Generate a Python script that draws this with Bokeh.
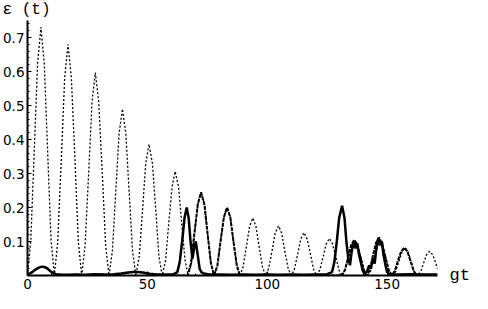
from bokeh.plotting import figure
from bokeh.models import FixedTicker, LinearAxis, Range1d
from bokeh.embed import file_html
from bokeh.resources import INLINE

# Dotted curve
DOT_T = [0, 1.4, 2.8, 4.2, 5.6, 7.0, 8.4, 9.8, 11.2,
         12.6, 14.1, 15.5, 16.9, 18.3, 19.8, 21.2, 22.6,
         24.0, 25.5, 26.9, 28.3, 29.7, 31.2, 32.6, 34.0,
         35.4, 36.8, 38.2, 39.6, 41.0, 42.4, 43.8, 45.2,
         46.6, 48.0, 49.3, 50.7, 52.1, 53.5, 54.8, 56.2,
         57.6, 58.9, 60.3, 61.6, 63.0, 64.3, 65.7, 67.0,
         68.4, 69.7, 71.1, 72.4, 73.8, 75.1, 76.5, 77.8,
         79.2, 80.5, 81.9, 83.2, 84.6, 85.9, 87.3, 88.6,
         89.9, 91.3, 92.6, 94.0, 95.3, 96.6, 98.0, 99.3,
         100.6, 102.0, 103.3, 104.7, 106.0, 107.3, 108.7, 110.0,
         111.3, 112.7, 114.0, 115.3, 116.6, 118.0, 119.3, 120.6,
         121.9, 123.3, 124.6, 125.9, 127.2, 128.6, 129.9, 131.2,
         132.5, 133.9, 135.2, 136.5, 137.8, 139.2, 140.5, 141.8,
         143.1, 144.4, 145.7, 147.1, 148.4, 149.7, 151.0, 152.3,
         153.6, 154.9, 156.2, 157.5, 158.7, 160.0, 161.3, 162.6,
         163.9, 165.2, 166.4, 167.7, 169.0, 170.3, 171.0]
DOT_E = [0, 0.107, 0.365, 0.623, 0.730, 0.623, 0.365, 0.107, 0,
         0.099, 0.340, 0.581, 0.680, 0.581, 0.340, 0.099, 0,
         0.087, 0.299, 0.510, 0.597, 0.510, 0.299, 0.087, 0,
         0.072, 0.245, 0.418, 0.490, 0.418, 0.245, 0.072, 0,
         0.056, 0.193, 0.330, 0.386, 0.330, 0.193, 0.056, 0,
         0.045, 0.153, 0.261, 0.306, 0.261, 0.153, 0.045, 0,
         0.036, 0.123, 0.209, 0.245, 0.209, 0.123, 0.036, 0,
         0.029, 0.100, 0.171, 0.200, 0.171, 0.100, 0.029, 0,
         0.025, 0.085, 0.144, 0.169, 0.144, 0.085, 0.025, 0,
         0.021, 0.073, 0.125, 0.146, 0.125, 0.073, 0.021, 0,
         0.018, 0.063, 0.108, 0.126, 0.108, 0.063, 0.018, 0,
         0.016, 0.055, 0.093, 0.109, 0.093, 0.055, 0.016, 0,
         0.015, 0.050, 0.085, 0.100, 0.085, 0.050, 0.015, 0,
         0.013, 0.046, 0.079, 0.092, 0.079, 0.046, 0.013, 0,
         0.012, 0.041, 0.070, 0.082, 0.070, 0.041, 0.012, 0,
         0.010, 0.036, 0.061, 0.071, 0.061, 0.036, 0.020]

# Heavier dashed curve
DASH_T = [60.0, 66.8, 68.2, 69.6, 71.0, 72.4, 73.8, 75.1, 76.5, 77.8,
          79.2, 80.5, 81.9, 83.2, 84.6, 85.9, 87.3, 88.6,
          131.0, 132.4, 133.7, 135.0, 136.3, 137.6, 138.9, 140.2, 141.5,
          142.8, 144.0, 145.3, 146.6, 147.9, 149.2, 150.5, 151.8,
          153.1, 154.4, 155.8, 157.2, 158.5, 159.8, 161.1, 162.4]
DASH_E = [0.0, 0.0, 0.036, 0.123, 0.209, 0.245, 0.209, 0.123, 0.036, 0.0,
          0.029, 0.100, 0.171, 0.200, 0.171, 0.100, 0.029, 0.0,
          0.0, 0.016, 0.053, 0.090, 0.105, 0.090, 0.053, 0.016, 0.0,
          0.016, 0.056, 0.095, 0.112, 0.095, 0.056, 0.016, 0.0,
          0.012, 0.041, 0.070, 0.082, 0.070, 0.041, 0.012, 0.0]

# Solid noisy curve
SOLID_T = [0, 1, 2, 3, 4, 5, 6, 7, 8, 9, 10, 11, 12, 14, 17, 20, 24, 28, 32, 36,
           39, 42, 45, 48, 51, 54, 58, 61, 62.5, 63.5, 64.5, 65.5, 66.4, 67.2, 68.0,
           68.8, 69.5, 70.2, 71.0, 71.8, 72.5, 73.5, 76, 80, 85, 90, 95, 100, 105,
           110, 115, 120, 125, 127, 128, 129, 130, 131.2, 132.2, 133.0, 133.8, 134.5,
           135.2, 136.0, 136.8, 137.5, 138.3, 139.0, 139.8, 140.5, 141.5, 142.5, 143.2,
           144.0, 144.8, 145.5, 146.3, 147.0, 147.8, 148.5, 149.3, 150.0, 151, 155,
           160, 165, 171]
SOLID_E = [0.004, 0.006, 0.010, 0.016, 0.020, 0.024, 0.026, 0.025, 0.022, 0.016,
           0.010, 0.006, 0.004, 0.003, 0.002, 0.003, 0.002, 0.004, 0.003, 0.004,
           0.006, 0.009, 0.011, 0.009, 0.005, 0.003, 0.003, 0.004, 0.010, 0.040,
           0.100, 0.170, 0.200, 0.170, 0.100, 0.050, 0.080, 0.100, 0.060, 0.020,
           0.010, 0.006, 0.003, 0.003, 0.002, 0.003, 0.002, 0.003, 0.002, 0.003,
           0.002, 0.003, 0.004, 0.010, 0.040, 0.100, 0.170, 0.205, 0.170, 0.100,
           0.050, 0.030, 0.070, 0.100, 0.080, 0.095, 0.060, 0.040, 0.015, 0.005,
           0.010, 0.030, 0.020, 0.050, 0.035, 0.080, 0.110, 0.090, 0.100, 0.060,
           0.030, 0.010, 0.004, 0.003, 0.004, 0.003, 0.003]

X_TICKS = [0, 50, 100, 150]
Y_TICKS = [0.1, 0.2, 0.3, 0.4, 0.5, 0.6, 0.7]
Y_TITLE = "ε (t)"
X_TITLE = "gt"

W, H = 472, 293
LEFT, RIGHT, TOP, BOTTOM = 25, 28, 20, 18

p = figure(width=W, height=H, output_backend="svg", toolbar_location=None,
           x_range=Range1d(0, 171), y_range=Range1d(0, 0.75),
           min_border_left=LEFT, min_border_right=RIGHT, min_border_top=TOP,
           min_border_bottom=BOTTOM)
p.grid.visible = False
p.outline_line_color = None
p.background_fill_color = "white"
p.border_fill_color = "white"

p.title.text = Y_TITLE
p.title.align = "left"
p.title.offset = -LEFT
p.title.standoff = 0
p.title.vertical_align = "top"
p.title.text_font = "Liberation Mono"
p.title.text_font_style = "normal"
p.title.text_font_size = "16px"
p.title.text_color = "black"

p.xaxis.ticker = FixedTicker(ticks=X_TICKS, minor_ticks=list(range(0, 171, 10)))
p.yaxis.ticker = FixedTicker(ticks=Y_TICKS,
                             minor_ticks=[i * 0.02 for i in range(0, 38)])
for ax in (p.xaxis[0], p.yaxis[0]):
    ax.axis_line_width = 2
    ax.axis_line_color = "black"
    ax.major_tick_in = 4
    ax.major_tick_out = 0
    ax.minor_tick_in = 2
    ax.minor_tick_out = 0
    ax.major_tick_line_color = "black"
    ax.minor_tick_line_color = "black"
    ax.major_label_text_font = "DejaVu Sans"
    ax.major_label_text_font_size = "13.5px"
    ax.major_label_text_color = "black"
p.yaxis.major_label_standoff = 3
p.xaxis.major_label_standoff = 3

# "gt" as the single label of a bare right-hand axis, level with y = 0
ra = LinearAxis(ticker=FixedTicker(ticks=[0]), major_label_overrides={0: X_TITLE},
                axis_line_color=None, major_tick_line_color=None,
                minor_tick_line_color=None, major_label_standoff=6,
                major_label_text_font="Liberation Mono",
                major_label_text_font_size="17px", major_label_text_color="black")
p.add_layout(ra, "right")

p.line(DOT_T, DOT_E, line_color="black", line_width=1.3, line_dash="2 2")
p.line(DASH_T, DASH_E, line_color="black", line_width=2, line_dash="4 1")
p.line(SOLID_T, SOLID_E, line_color="black", line_width=2.5)

open("out.html", "w").write(file_html(p, INLINE))
